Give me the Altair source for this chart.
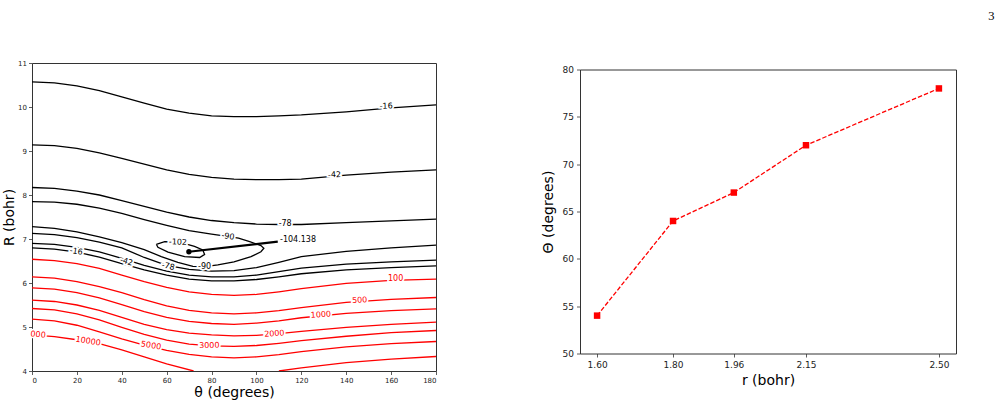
import altair as alt
import pandas as pd

# ---------------- left panel: contour lines ----------------
THETA_GRID = [0, 10, 20, 30, 40, 50, 60, 70, 80, 90, 100, 110, 120, 140, 160, 180]

R_M16_UP = [10.57, 10.55, 10.48, 10.37, 10.23, 10.09, 9.95, 9.86, 9.80, 9.78, 9.78, 9.80, 9.82, 9.89, 9.98, 10.05]
R_M42_UP = [9.14, 9.12, 9.06, 8.96, 8.83, 8.70, 8.57, 8.47, 8.40, 8.36, 8.35, 8.35, 8.36, 8.45, 8.52, 8.57]
R_M78_UP = [8.17, 8.15, 8.09, 8.00, 7.87, 7.74, 7.61, 7.50, 7.42, 7.37, 7.34, 7.33, 7.33, 7.37, 7.41, 7.45]
R_M78_LO = [7.13, 7.10, 7.03, 6.93, 6.80, 6.58, 6.40, 6.31, 6.27, 6.28, 6.35, 6.47, 6.60, 6.72, 6.80, 6.86]
R_M42_LO = [6.90, 6.88, 6.81, 6.71, 6.56, 6.40, 6.27, 6.18, 6.14, 6.14, 6.18, 6.26, 6.34, 6.43, 6.48, 6.52]
R_M16_LO = [6.80, 6.77, 6.70, 6.59, 6.44, 6.30, 6.18, 6.09, 6.05, 6.05, 6.08, 6.14, 6.21, 6.30, 6.35, 6.39]

R_P100 = [6.54, 6.51, 6.44, 6.33, 6.18, 6.03, 5.90, 5.80, 5.74, 5.72, 5.74, 5.80, 5.87, 5.99, 6.06, 6.09]
R_P500 = [6.14, 6.11, 6.03, 5.92, 5.78, 5.62, 5.48, 5.38, 5.32, 5.30, 5.32, 5.37, 5.44, 5.56, 5.63, 5.67]
R_P1000 = [5.89, 5.86, 5.78, 5.66, 5.51, 5.35, 5.22, 5.13, 5.08, 5.06, 5.09, 5.14, 5.21, 5.31, 5.37, 5.41]
R_P2000 = [5.61, 5.58, 5.50, 5.38, 5.22, 5.06, 4.94, 4.86, 4.82, 4.80, 4.81, 4.85, 4.90, 4.99, 5.06, 5.11]
R_P3000 = [5.42, 5.39, 5.30, 5.16, 4.99, 4.83, 4.70, 4.61, 4.57, 4.56, 4.58, 4.63, 4.69, 4.79, 4.87, 4.92]
R_P5000 = [5.18, 5.14, 5.04, 4.89, 4.73, 4.59, 4.47, 4.38, 4.32, 4.30, 4.32, 4.37, 4.44, 4.55, 4.62, 4.67]

T_P10000_A = [0, 10, 20, 30, 40, 50, 60, 72]
R_P10000_A = [4.82, 4.78, 4.71, 4.62, 4.48, 4.32, 4.16, 4.00]
T_P10000_B = [110, 120, 140, 160, 180]
R_P10000_B = [4.00, 4.07, 4.19, 4.27, 4.33]

T_M90 = [0, 10, 20, 30, 40, 50, 60, 70, 80, 87, 92, 97, 102, 103.3, 102, 97.6, 90, 82.8, 77, 71.7,
         65, 57.6, 50, 40, 30, 20, 10, 0]
R_M90 = [7.85, 7.84, 7.79, 7.70, 7.58, 7.44, 7.31, 7.19, 7.11, 7.06, 7.02, 6.94, 6.85, 6.79, 6.71, 6.60,
         6.48, 6.41, 6.37, 6.38, 6.47, 6.60, 6.76, 6.92, 7.05, 7.16, 7.24, 7.28]

T_M102 = [55.4, 59.1, 65.7, 72.4, 76.1, 76.9, 74.7, 68.0, 60.6, 56.1, 55.4]
R_M102 = [6.88, 6.94, 6.93, 6.83, 6.75, 6.65, 6.58, 6.60, 6.70, 6.81, 6.88]

MIN_T = [69.9, 109.5]
MIN_R = [6.71, 6.94]
MIN_LABEL = "-104.138"

LAB_TEXT = ["-16", "-42", "-78", "-90", "-102", "-90", "-78", "-42", "-16",
            "100", "500", "1000", "2000", "3000", "5000", "10000", "000"]
LAB_T = [157.8, 134.8, 112.8, 87.3, 65.0, 76.9, 60.6, 42.0, 19.7,
         162.0, 146.0, 128.7, 108.0, 79.0, 53.0, 25.0, 2.7]
LAB_R = [10.01, 8.45, 7.33, 7.05, 6.92, 6.37, 6.37, 6.48, 6.71,
         6.08, 5.60, 5.27, 4.84, 4.57, 4.57, 4.67, 4.82]
LAB_ANGLE = [358, 358, 0, 8, 2, 0, 13, 17, 9,
             0, 357, 357, 356, 359, 9, 9, 5]
LAB_COLOR = ["black"] * 9 + ["red"] * 8

# ---------------- right panel ----------------
R_BOHR = [1.60, 1.80, 1.96, 2.15, 2.50]
THETA_DEG = [54, 64, 67, 72, 78]

# ---------------- build tables ----------------
rows = []
def add(cid, color, ts, rs):
    for i, (t, r) in enumerate(zip(ts, rs)):
        rows.append({"cid": cid, "color": color, "o": i, "theta": t, "R": r})

add("m16u", "black", THETA_GRID, R_M16_UP)
add("m42u", "black", THETA_GRID, R_M42_UP)
add("m78u", "black", THETA_GRID, R_M78_UP)
add("m78l", "black", THETA_GRID, R_M78_LO)
add("m42l", "black", THETA_GRID, R_M42_LO)
add("m16l", "black", THETA_GRID, R_M16_LO)
add("m90", "black", T_M90, R_M90)
add("m102", "black", T_M102, R_M102)
add("p100", "red", THETA_GRID, R_P100)
add("p500", "red", THETA_GRID, R_P500)
add("p1000", "red", THETA_GRID, R_P1000)
add("p2000", "red", THETA_GRID, R_P2000)
add("p3000", "red", THETA_GRID, R_P3000)
add("p5000", "red", THETA_GRID, R_P5000)
add("p10000a", "red", T_P10000_A, R_P10000_A)
add("p10000b", "red", T_P10000_B, R_P10000_B)
contours = pd.DataFrame(rows)

labels = pd.DataFrame({"txt": LAB_TEXT, "theta": LAB_T, "R": LAB_R,
                       "ang": LAB_ANGLE, "color": LAB_COLOR})
minline = pd.DataFrame({"theta": MIN_T, "R": MIN_R, "o": [0, 1]})
mindot = minline.iloc[[0]]
minlab = pd.DataFrame({"theta": [MIN_T[1] + 1.0], "R": [MIN_R[1] + 0.04], "txt": [MIN_LABEL]})

FONT = "DejaVu Sans"

xL = alt.X("theta:Q", scale=alt.Scale(domain=[0, 180], nice=False, zero=False),
           axis=alt.Axis(values=list(range(0, 181, 20)), title="θ (degrees)", labelFontSize=7,
                         titleFontSize=14, titleFontWeight="normal", titlePadding=2,
                         tickSize=3.5, labelPadding=2, grid=False, domain=False))
yL = alt.Y("R:Q", scale=alt.Scale(domain=[4, 11], nice=False, zero=False),
           axis=alt.Axis(values=list(range(4, 12)), title="R (bohr)", labelFontSize=7,
                         titleFontSize=14, titleFontWeight="normal", titlePadding=1,
                         tickSize=3.5, labelPadding=2, grid=False, domain=False))

lines = alt.Chart(contours).mark_line(strokeWidth=1.3, clip=True).encode(
    x=xL, y=yL, detail="cid:N", order="o:Q", color=alt.Color("color:N", scale=None))

halo = alt.Chart(labels).mark_text(font=FONT, fontSize=8, fill="white", stroke="white",
                                   strokeWidth=3.5).encode(
    x="theta:Q", y="R:Q", text="txt:N", angle=alt.Angle("ang:Q", scale=None))
labtxt = alt.Chart(labels).mark_text(font=FONT, fontSize=8).encode(
    x="theta:Q", y="R:Q", text="txt:N", angle=alt.Angle("ang:Q", scale=None),
    color=alt.Color("color:N", scale=None))

mline = alt.Chart(minline).mark_line(strokeWidth=2.2, color="black").encode(
    x="theta:Q", y="R:Q", order="o:Q")
mdot = alt.Chart(mindot).mark_point(filled=True, size=28, color="black", opacity=1).encode(
    x="theta:Q", y="R:Q")
mlab = alt.Chart(minlab).mark_text(font=FONT, fontSize=8, align="left", color="black").encode(
    x="theta:Q", y="R:Q", text="txt:N")

left = alt.layer(lines, halo, labtxt, mline, mdot, mlab).properties(width=404, height=308)

# ---------------- right chart ----------------
rdf = pd.DataFrame({"r": R_BOHR, "th": THETA_DEG})
xR = alt.X("r:Q", scale=alt.Scale(domain=[1.555, 2.545], nice=False, zero=False),
           axis=alt.Axis(values=R_BOHR, format=".2f", title="r (bohr)", labelFontSize=9,
                         titleFontSize=14, titleFontWeight="normal", titlePadding=4,
                         tickSize=3.5, labelPadding=3, grid=False, domain=False))
yR = alt.Y("th:Q", scale=alt.Scale(domain=[50, 80], nice=False, zero=False),
           axis=alt.Axis(values=list(range(50, 81, 5)), title="Θ (degrees)", labelFontSize=9,
                         titleFontSize=14, titleFontWeight="normal", titlePadding=7,
                         tickSize=3.5, labelPadding=3, grid=False, domain=False))
rline = alt.Chart(rdf).mark_line(color="red", strokeWidth=1.3, strokeDash=[4.5, 2]).encode(x=xR, y=yR)
rpts = alt.Chart(rdf).mark_point(shape="square", filled=True, size=42, color="red", opacity=1).encode(
    x="r:Q", y="th:Q")
right = alt.layer(rline, rpts).properties(width=376, height=284)

# invisible spacer that lowers the right panel relative to the left one
spacer = alt.Chart(pd.DataFrame({"v": [0]})).mark_point(opacity=0, size=1).encode(
    x=alt.X("v:Q", axis=None), y=alt.Y("v:Q", axis=None)
).properties(width=376, height=1, view=alt.ViewBackground(stroke=None))

right_col = alt.vconcat(spacer, right, spacing=0.5)

chart = alt.hconcat(left, right_col, spacing=103).properties(
    title=alt.TitleParams("3", anchor="end", fontSize=12.5, font="Liberation Serif",
                          fontWeight="normal", offset=36, dx=38, color="black"),
    padding={"left": 2, "top": 10, "right": 0, "bottom": 0},
).configure_view(stroke="#333", strokeWidth=1).configure_axis(
    labelFont=FONT, titleFont=FONT, labelColor="#222", titleColor="black",
    tickColor="#333", tickWidth=0.8)

chart.save("out.html", embed_options={"renderer": "svg", "actions": False})
